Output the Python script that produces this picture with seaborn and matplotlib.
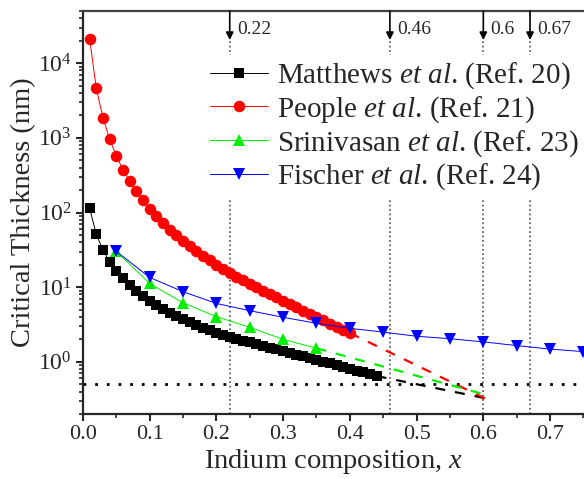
import matplotlib
matplotlib.use("Agg")
import matplotlib.pyplot as plt
import matplotlib.transforms as mtransforms
from matplotlib.ticker import MultipleLocator, LogLocator, NullFormatter
import numpy as np
import pandas as pd
import seaborn as sns

# Matthews et al. (Ref. 20)
matthews_x = [0.01, 0.02, 0.03, 0.04, 0.05, 0.06, 0.07, 0.08, 0.09, 0.10,
              0.11, 0.12, 0.13, 0.14, 0.15, 0.16, 0.17, 0.18, 0.19, 0.20,
              0.21, 0.22, 0.23, 0.24, 0.25, 0.26, 0.27, 0.28, 0.29, 0.30,
              0.31, 0.32, 0.33, 0.34, 0.35, 0.36, 0.37, 0.38, 0.39, 0.40,
              0.41, 0.42, 0.43, 0.44]
matthews_y = [115, 51, 31.5, 21.9, 16.6, 13.2, 10.7, 9.0, 7.67, 6.6,
              5.75, 5.07, 4.52, 4.07, 3.70, 3.37, 3.09, 2.85, 2.64, 2.45,
              2.29, 2.14, 2.02, 1.92, 1.82, 1.73, 1.64, 1.55, 1.47, 1.39,
              1.32, 1.25, 1.18, 1.12, 1.06, 1.00, 0.95, 0.90, 0.85, 0.80,
              0.76, 0.72, 0.68, 0.645]

# People et al. (Ref. 21)
people_x = [0.01, 0.02, 0.03, 0.04, 0.05, 0.06, 0.07, 0.08, 0.09, 0.10,
            0.11, 0.12, 0.13, 0.14, 0.15, 0.16, 0.17, 0.18, 0.19, 0.20,
            0.21, 0.22, 0.23, 0.24, 0.25, 0.26, 0.27, 0.28, 0.29, 0.30,
            0.31, 0.32, 0.33, 0.34, 0.35, 0.36, 0.37, 0.38, 0.39, 0.40]
people_y = [21400, 4600, 1870, 960, 575, 374, 267, 192, 145, 112,
            88.5, 72, 58.8, 49.3, 41.5, 35.2, 30.2, 26.2, 22.9, 20.0,
            17.5, 15.7, 13.7, 12.4, 11.0, 9.9, 8.93, 8.07, 7.28, 6.6,
            5.96, 5.38, 4.86, 4.40, 3.98, 3.60, 3.26, 2.95, 2.67, 2.43]

# Srinivasan et al. (Ref. 23)
srini_x = [0.05, 0.10, 0.15, 0.20, 0.25, 0.30, 0.35]
srini_y = [30.2, 11.2, 6.18, 4.02, 2.9, 2.0, 1.52]

# Fischer et al. (Ref. 24)
fischer_x = [0.05, 0.10, 0.15, 0.20, 0.25, 0.30, 0.35, 0.40, 0.45, 0.50,
             0.55, 0.60, 0.65, 0.70, 0.75]
fischer_y = [30.2, 13.5, 8.7, 6.05, 4.84, 3.95, 3.28, 2.81, 2.5, 2.2,
             2.04, 1.85, 1.65, 1.48, 1.37]

# dashed extrapolations (start, end)
matthews_ext_x = [0.44, 0.61]
matthews_ext_y = [0.645, 0.316]
people_ext_x = [0.40, 0.61]
people_ext_y = [2.43, 0.30]
srini_ext_x = [0.35, 0.60]
srini_ext_y = [1.52, 0.37]

critical_x = [0.22, 0.46, 0.6, 0.67]
critical_labels = ["0.22", "0.46", "0.6", "0.67"]
threshold_y = 0.5

sns.set_style("ticks")
plt.rcParams['font.family'] = ['Liberation Serif', 'DejaVu Serif']
plt.rcParams['mathtext.fontset'] = 'custom'
plt.rcParams['mathtext.rm'] = 'Liberation Serif'
plt.rcParams['mathtext.it'] = 'Liberation Serif:italic'
plt.rcParams['mathtext.bf'] = 'Liberation Serif:bold'

fig = plt.figure(figsize=(5.84, 4.79), dpi=100)
ax = fig.add_axes([0.142, 0.1357, 0.857, 0.8413])

series = [
    (matthews_x, matthews_y, 'black', 's', 6.5, r'Matthews $\mathit{et}$ $\mathit{al}$. (Ref. 20)'),
    (people_x, people_y, 'red', 'o', 8.3, r'People $\mathit{et}$ $\mathit{al}$. (Ref. 21)'),
    (srini_x, srini_y, '#00ee00', '^', 8.5, r'Srinivasan $\mathit{et}$ $\mathit{al}$. (Ref. 23)'),
    (fischer_x, fischer_y, 'blue', 'v', 8.5, r'Fischer $\mathit{et}$ $\mathit{al}$. (Ref. 24)'),
]
for xs, ys, col, mk, ms, lab in series:
    sns.lineplot(x=xs, y=ys, ax=ax, color=col, marker=mk, markersize=ms,
                 markeredgewidth=0, lw=0.7, label=lab, zorder=4)

for xs, ys, col in [(matthews_ext_x, matthews_ext_y, 'black'),
                    (people_ext_x, people_ext_y, 'red'),
                    (srini_ext_x, srini_ext_y, '#00ee00')]:
    ax.plot(xs, ys, color=col, lw=1.6, dashes=(4.5, 4.5), zorder=3)

ax.set_yscale('log')
ax.set_xlim(0, 0.75)
ax.set_ylim(0.2, 5e4)

ax.axhline(threshold_y, color='black', lw=2, ls=(0, (1, 3.2)), zorder=2)

trans = mtransforms.blended_transform_factory(ax.transData, ax.transAxes)
for xv, lab in zip(critical_x, critical_labels):
    ax.plot([xv, xv], [0, 0.925], transform=trans, color='0.3', lw=1.2,
            ls=':', zorder=1)
    ax.annotate('', xy=(xv, 0.928), xycoords=trans, xytext=(xv, 1.0),
                textcoords=trans,
                arrowprops=dict(arrowstyle='-|>', color='black', lw=1.2,
                                mutation_scale=11, shrinkA=0, shrinkB=0))
    ax.text(xv + 0.011, 0.954, lab, transform=trans, fontsize=14,
            va='center', ha='left')

ax.xaxis.set_major_locator(MultipleLocator(0.1))
ax.xaxis.set_minor_locator(MultipleLocator(0.05))
ax.yaxis.set_major_locator(LogLocator(base=10, numticks=10))
ax.yaxis.set_minor_locator(LogLocator(base=10, subs=np.arange(2, 10), numticks=20))
ax.yaxis.set_minor_formatter(NullFormatter())

ax.tick_params(axis='both', which='major', direction='out', length=5,
               width=1.5, labelsize=16, pad=3)
ax.tick_params(axis='both', which='minor', direction='out', length=3,
               width=1.2)
ax.tick_params(axis='y', labelsize=17)

for s in ['left', 'bottom', 'top']:
    ax.spines[s].set_linewidth(1.6)
ax.spines['top'].set_color('0.25')
ax.spines['right'].set_visible(False)

ax.set_xlabel(r'Indium composition, $\mathit{x}$', fontsize=20.5, labelpad=2)
ax.set_ylabel('Critical Thickness (nm)', fontsize=20.5, labelpad=1)

leg = ax.legend(loc='upper left', bbox_to_anchor=(0.2415, 0.891),
                borderaxespad=0, fontsize=21, frameon=True, framealpha=1,
                edgecolor='none', facecolor='white', fancybox=False,
                borderpad=0.2, labelspacing=0.1, handlelength=2.0,
                handletextpad=0.3)
leg.set_zorder(6)

fig.savefig('out.png', dpi=100)
